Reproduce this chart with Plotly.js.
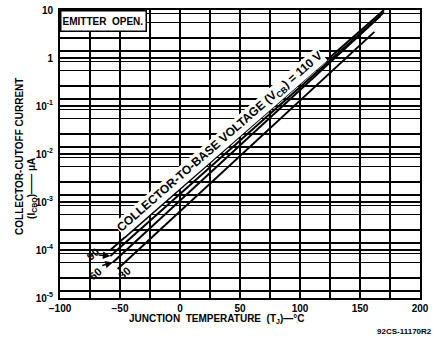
<!DOCTYPE html>
<html>
<head>
<meta charset="utf-8">
<script src="https://cdn.plot.ly/plotly-3.0.1.min.js"></script>
<style>html,body{margin:0;padding:0;background:#fff;}#chart{width:437px;height:344px;}</style>
</head>
<body>
<div id="chart"></div>
<script>
// ---- data ----
const voltages = ['110', '90', '60', '30'];
const temps110 = [-58, 170];
const icbo110  = [1.0e-4, 10];
const temps90  = [-58, 170];
const icbo90   = [7.5e-5, 9];
const temps60  = [-56, 167];
const icbo60   = [5.5e-5, 7.5];
const temps30  = [-52, 162];
const icbo30   = [4.0e-5, 3.5];

const xTickVals = [-100, -50, 0, 50, 100, 150, 200];
const yTickVals = [1e-5, 1e-4, 1e-3, 1e-2, 1e-1, 1, 10];
const yTickText = ['10<sup>-5</sup>', '10<sup>-4</sup>', '10<sup>-3</sup>', '10<sup>-2</sup>', '10<sup>-1</sup>', '1', '10'];
const minorFactors = [1.4, 2.6, 5.4, 8.3];

const FONT = 'Liberation Sans, Arial, sans-serif';
const lineStyle = {color: '#000', width: 2};
const txt = (size) => ({family: FONT, size: size, color: '#000', weight: 'bold'});

const traces = [
  {x: temps110, y: icbo110, name: voltages[0]},
  {x: temps90,  y: icbo90,  name: voltages[1]},
  {x: temps60,  y: icbo60,  name: voltages[2]},
  {x: temps30,  y: icbo30,  name: voltages[3]}
].map(t => Object.assign(t, {type: 'scatter', mode: 'lines', line: lineStyle, showlegend: false, hoverinfo: 'skip'}));

const minorVals = [];
for (let e = -5; e < 1; e++) minorFactors.forEach(f => minorVals.push(f * Math.pow(10, e)));

const lg = Math.log10;
const annotations = [
  {xref: 'paper', yref: 'paper', x: 0, y: 1, xanchor: 'left', yanchor: 'top',
   text: 'EMITTER  OPEN.', showarrow: false, align: 'left',
   width: 82, height: 17, bgcolor: '#fff', bordercolor: '#000', borderwidth: 1.5, borderpad: 1,
   font: txt(10)},
  {x: 33.5, y: -1.74, xref: 'x', yref: 'y', xanchor: 'center', yanchor: 'middle', showarrow: false, textangle: -41,
   text: 'COLLECTOR-TO-BASE VOLTAGE (V<sub>CB</sub>) = 110 V', bgcolor: '#fff', borderpad: 0,
   font: txt(12)},
  {x: -72.5, y: -4.09, xref: 'x', yref: 'y', xanchor: 'center', yanchor: 'middle', showarrow: false, textangle: -40, text: voltages[1], font: txt(11)},
  {x: -71, y: -4.49, xref: 'x', yref: 'y', xanchor: 'center', yanchor: 'middle', showarrow: false, textangle: -40, text: voltages[2], font: txt(11)},
  {x: -46.5, y: -4.47, xref: 'x', yref: 'y', xanchor: 'center', yanchor: 'middle', showarrow: false, textangle: -40, text: voltages[3], font: txt(11)},
  {x: temps90[0], y: lg(icbo90[0]), xref: 'x', yref: 'y', axref: 'x', ayref: 'y',
   ax: -69, ay: -4.1, text: '', showarrow: true, arrowhead: 2, arrowsize: 1, arrowwidth: 1.5, arrowcolor: '#000'},
  {x: temps60[0], y: lg(icbo60[0]), xref: 'x', yref: 'y', axref: 'x', ayref: 'y',
   ax: -66, ay: -4.33, text: '', showarrow: true, arrowhead: 2, arrowsize: 1, arrowwidth: 1.5, arrowcolor: '#000'},
  {xref: 'paper', yref: 'paper', x: 0.436, y: -0.072, xanchor: 'center', yanchor: 'middle', showarrow: false,
   text: 'JUNCTION  TEMPERATURE  (T<sub>J</sub>)—°C', font: txt(10)},
  {xref: 'paper', yref: 'paper', x: -0.114, y: 0.493, xanchor: 'center', yanchor: 'middle', showarrow: false, textangle: -90,
   text: 'COLLECTOR-CUTOFF CURRENT', font: txt(10)},
  {xref: 'paper', yref: 'paper', x: -0.078, y: 0.382, xanchor: 'center', yanchor: 'middle', showarrow: false, textangle: -90,
   text: '(I<sub>CBO</sub>)—— μA', font: txt(10)},
  {xref: 'paper', yref: 'paper', x: 1.039, y: -0.115, xanchor: 'right', yanchor: 'middle', showarrow: false,
   text: '92CS-11170R2', font: txt(8)}
];

const layout = {
  width: 437, height: 344,
  margin: {l: 60, r: 17, t: 10, b: 46},
  paper_bgcolor: '#fff', plot_bgcolor: '#fff',
  showlegend: false,
  xaxis: {
    range: [-100, 200], tickmode: 'array', tickvals: xTickVals,
    showgrid: true, gridcolor: '#000', gridwidth: 1.5,
    zeroline: false, showline: true, mirror: true, linecolor: '#000', linewidth: 2,
    ticks: '', ticklabelstandoff: 0,
    tickfont: txt(10),
    minor: {dtick: 25, tick0: 0, showgrid: true, gridcolor: '#000', gridwidth: 1.5, ticks: ''}
  },
  yaxis: {
    type: 'log', range: [-5, 1], tickmode: 'array', tickvals: yTickVals, ticktext: yTickText,
    showgrid: true, gridcolor: '#000', gridwidth: 1.5,
    zeroline: false, showline: true, mirror: true, linecolor: '#000', linewidth: 2,
    ticks: '', ticklabelstandoff: 3,
    tickfont: txt(10),
    minor: {tickmode: 'array', tickvals: minorVals, showgrid: true, gridcolor: '#000', gridwidth: 1.2, ticks: ''}
  },
  annotations: annotations
};

Plotly.newPlot('chart', traces, layout, {staticPlot: true, displayModeBar: false});
</script>
</body>
</html>
